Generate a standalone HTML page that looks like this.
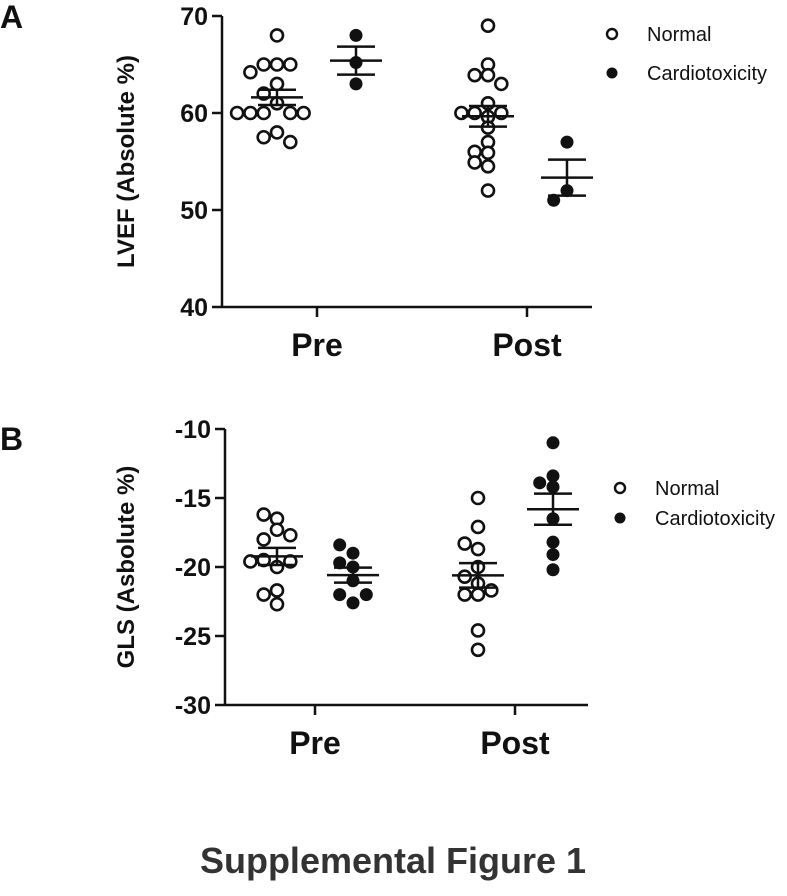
<!DOCTYPE html>
<html><head><meta charset="utf-8"><style>
body{margin:0;background:#fff;}
svg text{font-family:"Liberation Sans",Arial,sans-serif;}
</style></head><body>
<svg width="787" height="891" viewBox="0 0 787 891" xmlns="http://www.w3.org/2000/svg">
<g id="root"></g>
</svg>
<script>
const groups = ["Pre","Post"];
const aNormPre = [68,65,65,65,64.2,63,62,61,60,60,60,60,60,58,57.5,57];
const aCardPre = [68,65.2,63];
const aNormPost = [69,65,63.9,63.9,63,61,59.6,60,60,60,58.5,57,55.9,56,54.9,54.5,52];
const aCardPost = [57,52,51];
const aTicks = [40,50,60,70];
const bNormPre = [-16.5,-16.2,-17.3,-18.0,-17.7,-20.0,-19.5,-19.6,-19.6,-21.7,-22.0,-22.7];
const bCardPre = [-20.0,-19.0,-18.4,-19.7,-21.0,-22.6,-22.0,-22.0];
const bNormPost = [-15.0,-17.1,-18.7,-18.3,-20.0,-20.7,-21.2,-22.0,-22.0,-21.7,-24.6,-26.0];
const bCardPost = [-11.0,-14.2,-13.4,-13.9,-16.5,-18.2,-19.1,-20.2];
const bTicks = [-30,-25,-20,-15,-10];

const NS="http://www.w3.org/2000/svg";
const root=document.getElementById('root');
function mk(tag,attrs,parent){const e=document.createElementNS(NS,tag);for(const k in attrs)e.setAttribute(k,attrs[k]);(parent||root).appendChild(e);return e;}
function txt(s,attrs){const e=mk('text',attrs);e.textContent=s;return e;}

function beeswarm(vals,cx,yf,r){
  const placed=[];const out=[];
  const step=2*r*0.95;
  vals.forEach(v=>{const y=yf(v);let x=cx;
    const offs=[0,-1,1,-2,2,-3,3];
    for(const o of offs){x=cx+o*step;let ok=placed.every(p=>Math.abs(p[1]-y)>=r*1.5||Math.abs(p[0]-x)>=step*0.9);if(ok)break;}
    placed.push([x,y]);out.push([x,y]);});
  return out;
}
function stats(v){const m=v.reduce((a,b)=>a+b,0)/v.length;const sd=Math.sqrt(v.reduce((a,b)=>a+(b-m)*(b-m),0)/(v.length-1));return [m,sd/Math.sqrt(v.length)];}

function panel(o){
  const yf=v=>o.y0+(v-o.vmin)/(o.vmax-o.vmin)*(o.y1-o.y0);
  const g=mk('g',{});
  
  
  let l=mk('line',{x1:o.ax,y1:yf(o.vmax),x2:o.ax,y2:o.y0+1,stroke:'#111','stroke-width':2.5},g);
  
  
  l=mk('line',{x1:o.ax,y1:o.y0,x2:o.axEnd,y2:o.y0,stroke:'#111','stroke-width':2.5},g);
  
  
  o.ticks.forEach(t=>{
    const y=yf(t);
    const tl=mk('line',{x1:o.ax-10,y1:y,x2:o.ax,y2:y,stroke:'#111','stroke-width':2.5},g);
    
    
    const tx=mk('text',{x:o.ax-14,y:y+9,'text-anchor':'end','font-size':25,'font-weight':'bold',fill:'#111'},g);
    tx.textContent=String(t);
    
    
  });
  groups.forEach((gname,i)=>{
    const x=o.gx[i];
    const tl=mk('line',{x1:x,y1:o.y0,x2:x,y2:o.y0+10,stroke:'#111','stroke-width':2.5},g);
    
    
    const tx=mk('text',{x:x,y:o.y0+49,'text-anchor':'middle','font-size':32,'font-weight':'bold',fill:'#111'},g);
    tx.textContent=gname;
    
    
  });
  const yt=mk('text',{x:0,y:0,transform:`translate(${o.titleX},${(o.y0+yf(o.vmax))/2}) rotate(-90)`,'text-anchor':'middle','font-size':24,'font-weight':'bold',fill:'#111'},g);
  yt.textContent=o.title;
  
  
  const lt=mk('text',{x:0,y:o.letterY,'font-size':32,'font-weight':'bold',fill:'#111'},g);
  lt.textContent=o.letter;
  
  
  o.series.forEach(s=>{
    const pts=beeswarm(s.vals,s.cx,yf,7);
    pts.forEach(p=>{
      const c=mk('circle',{cx:p[0],cy:p[1],r:s.filled?6.5:6,fill:s.filled?'#111':'#fff',stroke:'#111','stroke-width':s.filled?0:2.6},g);
      
      
    });
    const [m,se]=stats(s.vals);
    const mw=26,sw=19;
    const parts=[[s.cx-mw,yf(m),s.cx+mw,yf(m),'mean-line'],[s.cx-sw,yf(m+se),s.cx+sw,yf(m+se),'sem-upper'],[s.cx-sw,yf(m-se),s.cx+sw,yf(m-se),'sem-lower'],[s.cx,yf(m+se),s.cx,yf(m-se),'sem-bar']];
    parts.forEach(q=>{const e=mk('line',{x1:q[0],y1:q[1],x2:q[2],y2:q[3],stroke:'#111','stroke-width':2.5},g);
      
      });
  });
  const l1=mk('circle',{cx:o.legX,cy:o.legY,r:5,fill:'#fff',stroke:'#111','stroke-width':2.4},g);
  
  
  const t1=mk('text',{x:o.legX+35,y:o.legY+7,'font-size':20,fill:'#111'},g);
  t1.textContent='Normal';
  
  
  const l2=mk('circle',{cx:o.legX,cy:o.legY+o.legGap,r:5.5,fill:'#111'},g);
  
  
  const t2=mk('text',{x:o.legX+35,y:o.legY+o.legGap+7,'font-size':20,fill:'#111'},g);
  t2.textContent='Cardiotoxicity';
  
  
}

panel({name:'panel-a',ax:222,axEnd:592,y0:307,y1:16,vmin:40,vmax:70,ticks:aTicks,gx:[317,527],
  title:'LVEF (Absolute %)',titleX:134,letter:'A',letterY:28,legX:612,legY:34,legGap:39,
  series:[{vals:aNormPre,cx:277,filled:false},{vals:aCardPre,cx:356,filled:true},{vals:aNormPost,cx:488,filled:false},{vals:aCardPost,cx:567,filled:true}]});
panel({name:'panel-b',ax:225,axEnd:588,y0:705,y1:429,vmin:-30,vmax:-10,ticks:bTicks,gx:[315,515],
  title:'GLS (Asbolute %)',titleX:134,letter:'B',letterY:450,legX:620,legY:488,legGap:30,
  series:[{vals:bNormPre,cx:277,filled:false},{vals:bCardPre,cx:353,filled:true},{vals:bNormPost,cx:478,filled:false},{vals:bCardPost,cx:553,filled:true}]});

const cap=txt('Supplemental Figure 1',{x:393,y:873,'text-anchor':'middle','font-size':36,'font-weight':'bold',fill:'#333'});


</script>
</body></html>
